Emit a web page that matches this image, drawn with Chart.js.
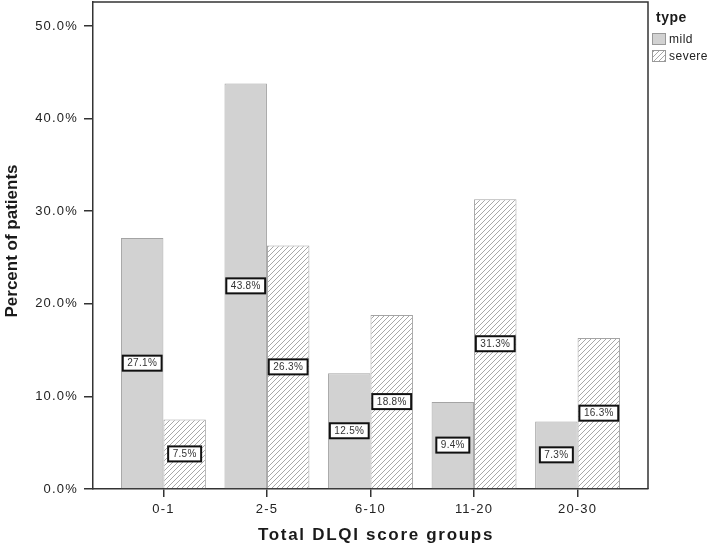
<!DOCTYPE html>
<html>
<head>
<meta charset="utf-8">
<script src="https://cdn.jsdelivr.net/npm/chart.js@4"></script>
<style>
  html, body { margin: 0; padding: 0; background: #fff; }
  #wrap { width: 720px; height: 545px; }
</style>
</head>
<body>
<div id="wrap"><canvas id="DlqiChart" width="720" height="545"></canvas></div>
<script>
const groups = ['0-1', '2-5', '6-10', '11-20', '20-30'];
const mild = [27.1, 43.8, 12.5, 9.4, 7.3];
const severe = [7.5, 26.3, 18.8, 31.3, 16.3];
const yTicks = [0, 10, 20, 30, 40, 50];

const canvas = document.getElementById('DlqiChart');
const c2d = canvas.getContext('2d');

function makeHatch() {
  var p = document.createElement('canvas');
  p.width = 5; p.height = 5;
  var g = p.getContext('2d');
  g.fillStyle = '#ffffff';
  g.fillRect(0, 0, 5, 5);
  g.strokeStyle = '#a8a8a8';
  g.lineWidth = 1;
  g.beginPath();
  g.moveTo(-1, 6); g.lineTo(6, -1);
  g.moveTo(-4, 4); g.lineTo(4, -4);
  g.moveTo(1, 9); g.lineTo(9, 1);
  g.stroke();
  return c2d.createPattern(p, 'repeat');
}
const hatch = makeHatch();

const FONT = '"Liberation Sans", Arial, sans-serif';

// frame, titles, legend, value boxes
const extras = {
  id: 'extras',
  beforeDraw(chart) {
    chart.ctx.letterSpacing = '1.2px';
  },
  afterDraw(chart) {
    const ctx = chart.ctx;
    const a = chart.chartArea;
    ctx.save();
    ctx.strokeStyle = '#333';
    ctx.lineWidth = 1.5;
    ctx.beginPath();
    ctx.moveTo(a.left, a.top);
    ctx.lineTo(a.right, a.top);
    ctx.lineTo(a.right, a.bottom);
    ctx.stroke();

    // value boxes
    ctx.font = '10px ' + FONT;
    ctx.letterSpacing = '0.3px';
    ctx.textAlign = 'center';
    ctx.textBaseline = 'middle';
    chart.data.datasets.forEach(function (ds, di) {
      chart.getDatasetMeta(di).data.forEach(function (el, i) {
        var txt = ds.data[i].y.toFixed(1) + '%';
        var cy = (el.y + el.base) / 2;
        var w = ctx.measureText(txt).width + 9;
        var h = 15;
        ctx.fillStyle = '#fff';
        ctx.fillRect(el.x - w / 2, cy - h / 2, w, h);
        ctx.strokeStyle = '#111';
        ctx.lineWidth = 2;
        ctx.strokeRect(el.x - w / 2, cy - h / 2, w, h);
        ctx.fillStyle = '#333';
        ctx.fillText(txt, el.x, cy + 0.5);
      });
    });

    // x title
    ctx.font = 'bold 17px ' + FONT;
    ctx.letterSpacing = '1.7px';
    ctx.fillStyle = '#1a1a1a';
    ctx.fillText('Total DLQI score groups', 376, 535);

    // y title
    ctx.save();
    ctx.translate(12, 241);
    ctx.rotate(-Math.PI / 2);
    ctx.font = 'bold 17px ' + FONT;
    ctx.letterSpacing = '0px';
    ctx.fillText('Percent of patients', 0, 0);
    ctx.restore();

    // legend
    ctx.textAlign = 'left';
    ctx.font = 'bold 14px ' + FONT;
    ctx.letterSpacing = '0.5px';
    ctx.fillText('type', 656, 18);
    ctx.font = '12px ' + FONT;
    chart.data.datasets.forEach(function (ds, di) {
      var y = 33 + di * 17;
      ctx.fillStyle = ds.backgroundColor;
      ctx.fillRect(652, y, 14, 12);
      ctx.strokeStyle = '#999';
      ctx.lineWidth = 1;
      ctx.strokeRect(652.5, y + 0.5, 13, 11);
      ctx.fillStyle = '#222';
      ctx.fillText(ds.label, 669, y + 6.5);
    });
    ctx.restore();
  }
};

const data = {
  datasets: [{
    label: 'mild',
    data: mild.map(function (v, i) { return { x: i, y: v }; }),
    backgroundColor: '#d2d2d2',
    borderColor: '#a4a4a4',
    borderWidth: 1
  }, {
    label: 'severe',
    data: severe.map(function (v, i) { return { x: i, y: v }; }),
    backgroundColor: hatch,
    borderColor: '#a4a4a4',
    borderWidth: 1
  }]
};

const config = {
  type: 'bar',
  data: data,
  plugins: [extras],
  options: {
    responsive: false,
    animation: false,
    layout: { padding: { top: 2, right: 72, left: 0, bottom: 0 } },
    datasets: { bar: { categoryPercentage: 0.82, barPercentage: 1 } },
    plugins: { legend: { display: false }, tooltip: { enabled: false } },
    scales: {
      x: {
        type: 'linear',
        min: -0.68,
        max: 4.68,
        offset: false,
        afterFit: function (s) { s.height = 56; s.paddingLeft = 0; s.paddingRight = 0; },
        afterBuildTicks: function (s) { s.ticks = groups.map(function (g, i) { return { value: i }; }); },
        grid: { offset: false, drawOnChartArea: false, drawTicks: true, tickLength: 8, color: '#333', lineWidth: 1.5 },
        border: { display: true, color: '#333', width: 1.5 },
        ticks: {
          padding: 5,
          color: '#222',
          font: { family: FONT, size: 13 },
          maxRotation: 0,
          autoSkip: false,
          callback: function (v) { return groups[v]; }
        }
      },
      y: {
        min: 0,
        max: 52.6,
        afterFit: function (s) { s.width = 93; s.paddingTop = 0; s.paddingBottom = 0; },
        afterBuildTicks: function (s) { s.ticks = yTicks.map(function (v) { return { value: v }; }); },
        grid: { drawOnChartArea: false, drawTicks: true, tickLength: 9, color: '#333', lineWidth: 1.5 },
        border: { display: true, color: '#333', width: 1.5 },
        ticks: {
          padding: 6,
          color: '#222',
          font: { family: FONT, size: 13 },
          callback: function (v) { return v.toFixed(1) + '%'; }
        }
      }
    }
  }
};

const myChart = new Chart(canvas, config);
</script>
</body>
</html>
